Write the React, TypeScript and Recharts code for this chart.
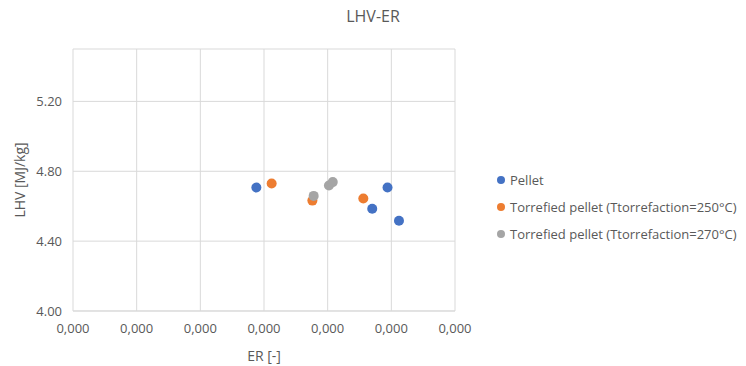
import { ScatterChart, Scatter, XAxis, YAxis, CartesianGrid } from 'recharts';

// Excel palette
const COLORS = {
  pellet: '#4472C4',
  t250: '#ED7D31',
  t270: '#A5A5A5',
};

const TEXT = '#595959';
const GRID = '#D9D9D9';
const FONT = '"Open Sans", "Noto Sans", sans-serif';

// ER [-] vs LHV [MJ/kg]
const pelletER = [0.000144, 0.000247, 0.000235, 0.000256];
const pelletLHV = [4.707, 4.707, 4.585, 4.517];

const t250ER = [0.000156, 0.000188, 0.000228];
const t250LHV = [4.73, 4.632, 4.644];

const t270ER = [0.000189, 0.000201, 0.000204];
const t270LHV = [4.659, 4.718, 4.738];

const xTicks = [0, 0.00005, 0.0001, 0.00015, 0.0002, 0.00025, 0.0003];
const yTicks = [4.0, 4.4, 4.8, 5.2];

const toPoints = (xs: number[], ys: number[]) => xs.map((x, i) => ({ er: x, lhv: ys[i] }));

const series = [
  { name: 'Pellet', color: COLORS.pellet, data: toPoints(pelletER, pelletLHV) },
  { name: 'Torrefied pellet (Ttorrefaction=250°C)', color: COLORS.t250, data: toPoints(t250ER, t250LHV) },
  { name: 'Torrefied pellet (Ttorrefaction=270°C)', color: COLORS.t270, data: toPoints(t270ER, t270LHV) },
];

const Dot = (props: any) => {
  const { cx, cy, fill } = props;
  return <circle cx={cx} cy={cy} r={5} fill={fill} />;
};

export default function App() {
  return (
    <div style={{ position: 'absolute', left: 0, top: 0, width: 746, height: 366, background: '#fff' }}>
      <div
        style={{
          position: 'absolute',
          top: 5,
          width: 746,
          textAlign: 'center',
          fontFamily: FONT,
          fontSize: 16,
          color: TEXT,
        }}
      >
        LHV-ER
      </div>
      <ScatterChart width={746} height={366} margin={{ top: 49, right: 291, left: 0, bottom: 0 }}>
        <CartesianGrid stroke={GRID} strokeWidth={1} />
        <XAxis
          type="number"
          dataKey="er"
          domain={[0, 0.0003]}
          ticks={xTicks}
          tickFormatter={(v: number) => v.toFixed(3).replace('.', ',')}
          height={55}
          axisLine={{ stroke: GRID }}
          tickLine={false}
          tickMargin={7}
          tick={{ fill: TEXT, fontSize: 13, fontFamily: FONT }}
          label={{ value: 'ER [-]', position: 'insideBottom', offset: 5, fill: TEXT, fontSize: 14, fontFamily: FONT }}
        />
        <YAxis
          type="number"
          dataKey="lhv"
          domain={[4, 5.5]}
          ticks={yTicks}
          tickFormatter={(v: number) => v.toFixed(2)}
          width={73}
          axisLine={false}
          tickLine={false}
          tickMargin={5}
          tick={{ fill: TEXT, fontSize: 13, fontFamily: FONT }}
          label={{ value: 'LHV [MJ/kg]', angle: -90, position: 'insideLeft', offset: 20, fill: TEXT, fontSize: 14, fontFamily: FONT, style: { textAnchor: 'middle' } }}
        />
        {series.map((s) => (
          <Scatter
            key={s.name}
            name={s.name}
            data={s.data}
            fill={s.color}
            shape={<Dot />}
            isAnimationActive={false}
          />
        ))}
      </ScatterChart>
      <div
        style={{
          position: 'absolute',
          left: 496,
          top: 166,
          fontFamily: FONT,
          fontSize: 13,
          color: TEXT,
        }}
      >
        {series.map((s) => (
          <div key={s.name} style={{ display: 'flex', alignItems: 'center', height: 27, whiteSpace: 'nowrap' }}>
            <svg width={10} height={10} style={{ marginRight: 4 }}>
              <circle cx={5} cy={5} r={4} fill={s.color} />
            </svg>
            <span>{s.name}</span>
          </div>
        ))}
      </div>
    </div>
  );
}
